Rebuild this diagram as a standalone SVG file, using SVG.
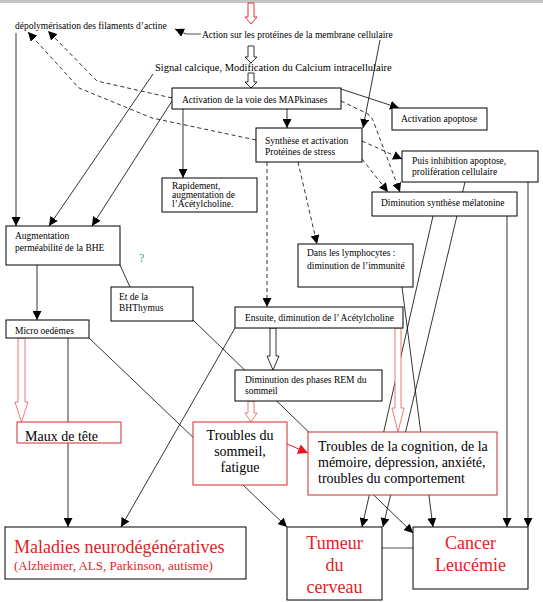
<svg xmlns="http://www.w3.org/2000/svg" width="543" height="602" viewBox="0 0 543 602">
<style>
  .t { font-family: "Liberation Serif", "Times New Roman", serif; font-size: 9.5px; fill: #000; }
  .tm { font-family: "Liberation Serif", "Times New Roman", serif; font-size: 14px; fill: #000; }
  .tr { font-family: "Liberation Serif", "Times New Roman", serif; font-size: 18px; fill: #dd1f26; }
  .box { fill: #fff; stroke: #000; stroke-width: 1; }
  .rbox { fill: #fff; stroke: #d42a2a; stroke-width: 1; }
  .ln { fill: none; stroke: #000; stroke-width: 0.8; }
  .ar { marker-end: url(#ah); }
  .dash { stroke-dasharray: 4 3; }
  .hb { fill: #fff; stroke: #000; stroke-width: 0.8; }
  .hr { fill: #fff; stroke: #e86a6a; stroke-width: 0.9; }
</style>
<defs>
  <marker id="ah" viewBox="0 0 10 10" refX="10" refY="5" markerWidth="9" markerHeight="9" markerUnits="userSpaceOnUse" orient="auto">
    <path d="M0,0 L10,5 L0,10 z" fill="#000"/>
  </marker>
  <marker id="ahr" viewBox="0 0 10 10" refX="10" refY="5" markerWidth="10" markerHeight="10" markerUnits="userSpaceOnUse" orient="auto">
    <path d="M0,0 L10,5 L0,10 z" fill="#e8161c"/>
  </marker>
</defs>
<rect x="0" y="0" width="543" height="3" fill="#c4c4c4"/>
<g id="connectors">
  <path class="ln ar" d="M16,33 V226"/>
  <path class="ln ar dash" d="M172,98 L97,81 L48,31"/>
  <path class="ln ar dash" d="M256,140 L152,118 L79,88 L28,32"/>
  <path class="ln ar" d="M153,74 L49,226"/>
  <path class="ln ar" d="M172,101 L92,226"/>
  <path class="ln ar" d="M183,109 V178"/>
  <path class="ln ar" d="M287,109 V128"/>
  <path class="ln ar" d="M341,89 L399,108"/>
  <path class="ln ar dash" d="M341,101 L366,113 Q372,116 374,123 L400,192"/>
  <path class="ln ar" d="M380,40 L363,128"/>
  <path class="ln ar dash" d="M362,141 L402,159"/>
  <path class="ln ar dash" d="M362,159 L388,192"/>
  <path class="ln ar dash" d="M267,162 V307"/>
  <path class="ln ar dash" d="M298,162 L317,244"/>
  <path class="ln ar" d="M37,265 V320"/>
  <path class="ln" d="M120,265 L130,287"/>
  <path class="ln ar" d="M68,338 V527"/>
  <path class="ln ar" d="M89,338 L287,527"/>
  <path class="ln ar" d="M235,328 L121,527"/>
  <path class="ln ar" d="M193,320 L413,533"/>
  <path d="M287,444 L308,453" fill="none" stroke="#e8161c" stroke-width="1" marker-end="url(#ahr)"/>
  <path class="ln ar" d="M433,216 L362,527"/>
  <path class="ln ar" d="M465,182 L383,527"/>
  <path class="ln ar" d="M402,287 L433,527"/>
  <path class="ln ar" d="M507,216 V527"/>
  <path class="ln ar" d="M528,182 V527"/>
  <path d="M382,548 H413" fill="none" stroke="#a8a8a8" stroke-width="2"/>
  <path d="M201,34 H186" fill="none" stroke="#8a8a8a" stroke-width="1.5"/>
  <path class="ln ar" d="M186,34 L175,29"/>
  <polygon class="hr" style="stroke:#e8161c" points="248,3 254,3 254,17 257,17 251,24 245,17 248,17"/>
  <polygon class="hb" points="248,46 254,46 254,57 257,57 251,63 245,57 248,57"/>
  <polygon class="hb" points="248,73 254,73 254,82 257,82 251,88 245,82 248,82"/>
  <polygon class="hr" points="18,338 25,338 25,402 28,402 21.5,422 15,402 18,402"/>
  <polygon class="hb" points="270,328 276,328 276,356 279,356 273,370 267,356 270,356"/>
  <polygon class="hr" points="248,401 254,401 254,413 257,413 251,422 245,413 248,413"/>
  <polygon class="hr" points="395,328 401,328 401,408 404,408 398,432 392,408 395,408"/>
</g>
<g id="n-depoly"><text class="t" x="15" y="29">dépolymérisation des filaments d’actine</text></g>
<g id="n-action"><text class="t" x="202" y="38">Action sur les protéines de la membrane cellulaire</text></g>
<g id="n-signal"><text class="t" x="155" y="71" style="font-size:10.5px">Signal calcique, Modification du Calcium intracellulaire</text></g>
<g id="n-map"><rect class="box" x="172" y="88" width="169" height="21"/><text class="t" x="182" y="103">Activation de la voie des MAPkinases</text></g>
<g id="n-apop"><rect class="box" x="392" y="108" width="95" height="22"/><text class="t" x="401" y="122">Activation apoptose</text></g>
<g id="n-synth"><rect class="box" x="256" y="128" width="106" height="34"/><text class="t" x="265" y="144">Synthèse et activation</text><text class="t" x="265" y="155">Protéines de stress</text></g>
<g id="n-puis"><rect class="box" x="402" y="151" width="136" height="31"/><text class="t" x="412" y="164">Puis inhibition apoptose,</text><text class="t" x="412" y="175">prolifération cellulaire</text></g>
<g id="n-rapid"><rect class="box" x="162" y="178" width="95" height="34"/><text class="t" x="172" y="189">Rapidement,</text><text class="t" x="172" y="198">augmentation de</text><text class="t" x="172" y="207">l’Acétylcholine.</text></g>
<g id="n-melat"><rect class="box" x="372" y="192" width="145" height="24"/><text class="t" x="381" y="206">Diminution synthèse mélatonine</text></g>
<g id="n-augm"><rect class="box" x="6" y="226" width="114" height="39"/><text class="t" x="15" y="239">Augmentation</text><text class="t" x="15" y="251">perméabilité de la BHE</text></g>
<g id="n-q"><text x="139" y="262" style="font-family:'Liberation Serif',serif;font-size:12px;fill:#3a9a8c">?</text></g>
<g id="n-lympho"><rect class="box" x="298" y="244" width="115" height="43"/><text class="t" x="307" y="256">Dans les lymphocytes :</text><text class="t" x="307" y="269">diminution de l’immunité</text></g>
<g id="n-bhthy"><rect class="box" x="111" y="287" width="82" height="34"/><text class="t" x="119" y="300">Et de la</text><text class="t" x="119" y="311">BHThymus</text></g>
<g id="n-ensuite"><rect class="box" x="235" y="307" width="168" height="21"/><text class="t" x="245" y="321">Ensuite, diminution de l’ Acétylcholine</text></g>
<g id="n-micro"><rect class="box" x="6" y="320" width="83" height="18"/><text class="t" x="15" y="334">Micro oedèmes</text></g>
<g id="n-rem"><rect class="box" x="235" y="370" width="147" height="31"/><text class="t" x="245" y="383">Diminution des phases REM du</text><text class="t" x="245" y="394">sommeil</text></g>
<g id="n-maux"><rect class="rbox" x="17" y="422" width="104" height="21"/><text class="tm" x="25" y="441">Maux de tête</text></g>
<g id="n-sommeil"><rect class="rbox" x="193" y="422" width="94" height="63"/><text class="tm" x="240" y="440" text-anchor="middle">Troubles du</text><text class="tm" x="240" y="456" text-anchor="middle">sommeil,</text><text class="tm" x="240" y="472" text-anchor="middle">fatigue</text></g>
<g id="n-cogn"><rect class="rbox" x="308" y="432" width="189" height="63"/><text class="tm" x="318" y="451">Troubles de la cognition, de la</text><text class="tm" x="318" y="467">mémoire, dépression, anxiété,</text><text class="tm" x="318" y="483">troubles du comportement</text></g>
<g id="n-malad"><rect class="box" x="5" y="527" width="241" height="52"/><text class="tr" x="14" y="553">Maladies neurodégénératives</text><text class="tr" x="14" y="570" style="font-size:13px">(Alzheimer, ALS, Parkinson, autisme)</text></g>
<g id="n-tumeur"><rect class="box" x="287" y="527" width="95" height="73"/><text class="tr" x="334.5" y="549" text-anchor="middle">Tumeur</text><text class="tr" x="334.5" y="571" text-anchor="middle">du</text><text class="tr" x="334.5" y="593" text-anchor="middle">cerveau</text></g>
<g id="n-cancer"><rect class="box" x="413" y="527" width="115" height="62"/><text class="tr" x="470.5" y="549" text-anchor="middle">Cancer</text><text class="tr" x="470.5" y="571" text-anchor="middle">Leucémie</text></g>
</svg>
